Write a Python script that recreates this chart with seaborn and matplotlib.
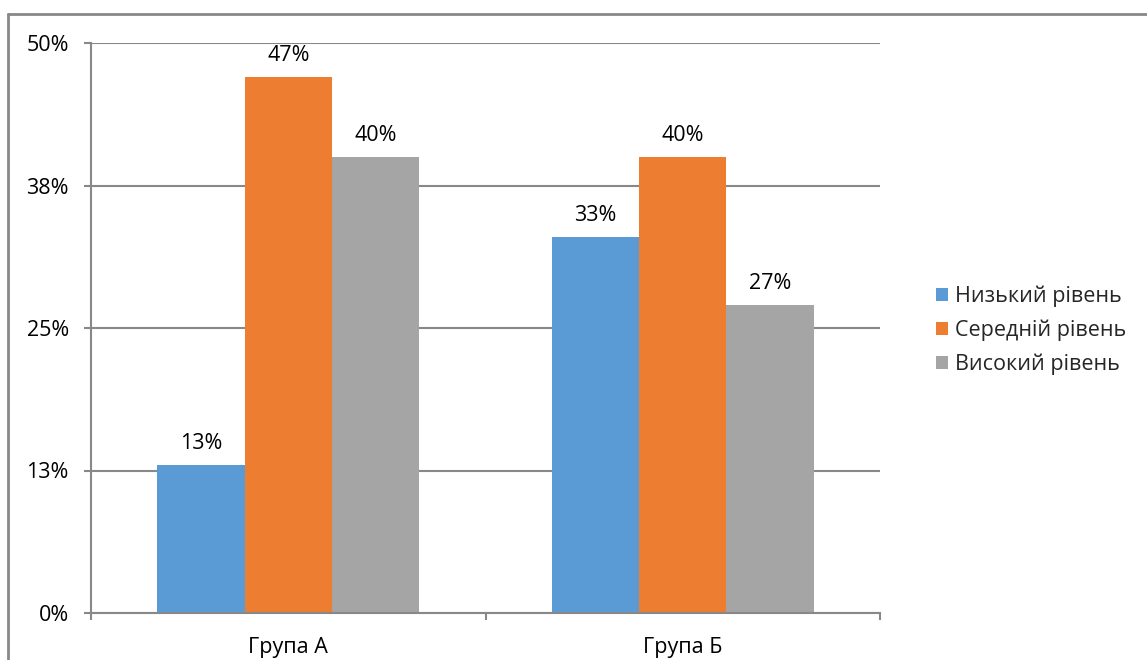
import matplotlib
matplotlib.use("Agg")
import matplotlib.pyplot as plt
from matplotlib.lines import Line2D
import seaborn as sns
import pandas as pd

# data
groups = ["Група А", "Група Б"]
levels = ["Низький рівень", "Середній рівень", "Високий рівень"]
low = [13, 33]
mid = [47, 40]
high = [40, 27]
y_ticks = [0, 12.5, 25, 37.5, 50]
y_labels = ["0%", "13%", "25%", "38%", "50%"]

colors = ["#5B9BD5", "#ED7D31", "#A5A5A5"]
grid_c = "#888888"
fs = 15.5

df = pd.DataFrame({
    "group": groups * 3,
    "level": [levels[0]] * 2 + [levels[1]] * 2 + [levels[2]] * 2,
    "value": low + mid + high,
})

sns.set_style("white")
plt.rcParams["font.family"] = ["Open Sans", "DejaVu Sans"]

fig = plt.figure(figsize=(11.47, 6.6), dpi=100)
ax = fig.add_axes([91 / 1147, 47 / 660, (880 - 91) / 1147, (613 - 43) / 660])

sns.barplot(data=df, x="group", y="value", hue="level", order=groups,
            hue_order=levels, palette=colors, width=0.665, saturation=1,
            edgecolor="none", ax=ax)

for cont in ax.containers:
    ax.bar_label(cont, labels=[f"{v:.0f}%" for v in cont.datavalues],
                 padding=8, fontsize=fs, color="black")

ax.set_ylim(0, 50)
ax.set_xlim(-0.5, 1.5)
ax.set_yticks(y_ticks)
ax.set_yticklabels(y_labels)
ax.set_xticks([0, 1])
ax.set_xticklabels(groups)
ax.set_xticks([-0.5, 0.5, 1.5], minor=True)
ax.tick_params(axis="x", which="major", bottom=True, length=0, pad=17,
               labelsize=fs, labelcolor="black")
ax.tick_params(axis="x", which="minor", bottom=True, length=5, width=1.5, color=grid_c)
ax.tick_params(axis="y", left=True, length=5, width=1.5, color=grid_c, pad=11,
               labelsize=fs, labelcolor="black")
ax.set_xlabel("")
ax.set_ylabel("")

ax.yaxis.grid(True, color=grid_c, linewidth=1.5)
ax.set_axisbelow(True)
for s in ["top", "right"]:
    ax.spines[s].set_visible(False)
for s in ["left", "bottom"]:
    ax.spines[s].set_color(grid_c)
    ax.spines[s].set_linewidth(1.5)

ax.legend(loc="center left", bbox_to_anchor=(925 / 1147, 0.5),
          bbox_transform=fig.transFigure, frameon=False, fontsize=fs,
          handlelength=0.55, handleheight=0.55, handletextpad=0.35,
          labelspacing=0.58, borderpad=0)

# outer chart border
top_y = 1 - 14 / 660
left_x = 8 / 1147
fig.add_artist(Line2D([left_x, 1.0], [top_y, top_y], color=grid_c, linewidth=2,
                      transform=fig.transFigure))
fig.add_artist(Line2D([left_x, left_x], [0, top_y], color=grid_c, linewidth=2,
                      transform=fig.transFigure))

fig.savefig("out.png", dpi=100)
